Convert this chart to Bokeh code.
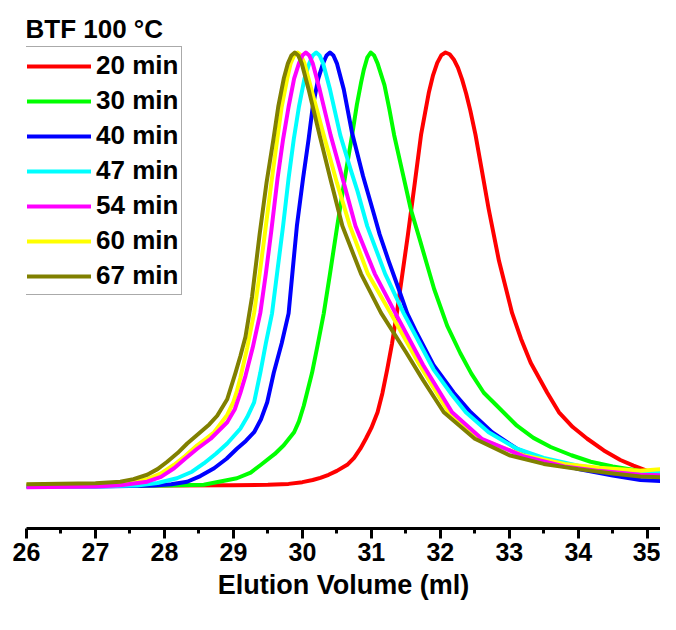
from bokeh.plotting import figure
from bokeh.models import Legend, LegendItem, Label, FixedTicker, Range1d
from bokeh.embed import file_html
from bokeh.resources import INLINE

# ---------------- data ----------------
series_labels = ["20 min", "30 min", "40 min", "47 min", "54 min", "60 min", "67 min"]
series_colors = ["#FF0000", "#00FF00", "#0000FF", "#00FFFF", "#FF00FF", "#FFFF00", "#808000"]

red_x = [26.0, 27.0, 28.0, 29.0, 29.5, 29.8, 30.0, 30.15, 30.26, 30.38, 30.5, 30.65, 30.75, 30.84,
         30.92, 31.0, 31.09, 31.16, 31.23, 31.3, 31.37, 31.45, 31.53, 31.63, 31.72, 31.78, 31.835,
         31.895, 31.955, 32.015, 32.075, 32.135, 32.195, 32.255, 32.315, 32.375, 32.435, 32.51,
         32.6, 32.7, 32.85, 33.04, 33.17, 33.31, 33.55, 33.72, 33.92, 34.13, 34.37, 34.61, 34.8,
         35.0, 35.2, 35.42]
red_y = [0.002, 0.002, 0.002, 0.003, 0.004, 0.006, 0.010, 0.015, 0.020, 0.027, 0.036, 0.050, 0.066, 0.087,
         0.11, 0.135, 0.171, 0.215, 0.27, 0.33, 0.40, 0.49, 0.58, 0.70, 0.81, 0.862, 0.909,
         0.948, 0.976, 0.994, 1.0, 0.996, 0.984, 0.965, 0.938, 0.905, 0.866, 0.81,
         0.73, 0.64, 0.52, 0.40, 0.34, 0.285, 0.216, 0.171, 0.137, 0.110, 0.083, 0.061, 0.048,
         0.036, 0.031, 0.028]

green_x = [26.0, 27.0, 28.0, 28.57, 29.05, 29.25, 29.39, 29.6, 29.73, 29.88, 29.95, 30.02, 30.14,
           30.22, 30.31, 30.4, 30.505, 30.62, 30.72, 30.79, 30.85, 30.89, 30.94, 30.99, 31.04, 31.09,
           31.19, 31.26, 31.33, 31.45, 31.57, 31.7, 31.8, 31.91, 32.1, 32.29, 32.45, 32.63, 32.82,
           33.11, 33.35, 33.6, 33.9, 34.18, 34.5, 34.9, 35.42]
green_y = [0.001, 0.001, 0.002, 0.004, 0.019, 0.032, 0.049, 0.075, 0.095, 0.125, 0.15, 0.186, 0.262,
           0.325, 0.399, 0.49, 0.60, 0.715, 0.809, 0.88, 0.93, 0.96, 0.988, 1.0, 0.993, 0.975,
           0.925, 0.87, 0.81, 0.725, 0.64, 0.57, 0.515, 0.455, 0.37, 0.307, 0.26, 0.216, 0.186,
           0.140, 0.112, 0.091, 0.072, 0.057, 0.046, 0.036, 0.030]

blue_x = [26.0, 27.0, 27.5, 27.85, 28.1, 28.33, 28.52, 28.72, 28.9, 29.05, 29.18, 29.3, 29.4, 29.49,
          29.585, 29.7, 29.8, 29.86, 29.92, 30.01, 30.09, 30.15, 30.23, 30.3, 30.35, 30.4, 30.45,
          30.5, 30.6, 30.72, 30.88, 31.04, 31.12, 31.25, 31.39, 31.52, 31.66, 31.9, 32.195, 32.44,
          32.75, 33.11, 33.5, 34.0, 34.5, 34.9, 35.42]
blue_y = [0.0, 0.0, 0.001, 0.002, 0.005, 0.011, 0.024, 0.042, 0.064, 0.087, 0.105, 0.125, 0.155, 0.194,
          0.262, 0.33, 0.399, 0.50, 0.60, 0.71, 0.80, 0.875, 0.94, 0.975, 0.993, 1.0, 0.993,
          0.975, 0.915, 0.815, 0.715, 0.626, 0.581, 0.52, 0.458, 0.399, 0.353, 0.28, 0.216, 0.171,
          0.125, 0.087, 0.062, 0.040, 0.025, 0.015, 0.011]

cyan_x = [26.0, 27.0, 27.6, 27.9, 28.18, 28.4, 28.57, 28.75, 28.91, 29.1, 29.2, 29.3, 29.39, 29.47,
          29.56, 29.64, 29.72, 29.8, 29.875, 29.95, 30.03, 30.1, 30.15, 30.2, 30.25, 30.3, 30.4,
          30.55, 30.7, 30.8, 30.94, 31.2, 31.47, 31.7, 31.9, 32.15, 32.37, 32.7, 33.11, 33.5,
          34.0, 34.5, 34.9, 35.42]
cyan_y = [0.0, 0.0, 0.002, 0.008, 0.019, 0.034, 0.053, 0.076, 0.099, 0.133, 0.16, 0.194, 0.262, 0.33,
          0.399, 0.50, 0.60, 0.71, 0.80, 0.875, 0.94, 0.975, 0.993, 1.0, 0.993, 0.975, 0.915,
          0.809, 0.73, 0.68, 0.60, 0.49, 0.399, 0.33, 0.27, 0.215, 0.171, 0.125, 0.087, 0.066,
          0.048, 0.037, 0.030, 0.034]

magenta_x = [26.0, 27.0, 27.36, 27.75, 27.95, 28.14, 28.3, 28.475, 28.67, 28.91, 29.02, 29.1, 29.175,
             29.28, 29.39, 29.47, 29.55, 29.64, 29.72, 29.8, 29.88, 29.95, 30.0, 30.05, 30.1, 30.15,
             30.25, 30.41, 30.6, 30.77, 31.05, 31.35, 31.75, 32.17, 32.6, 33.2, 33.8, 34.3, 34.9, 35.42]
magenta_y = [-0.002, 0.0, 0.003, 0.011, 0.022, 0.042, 0.064, 0.087, 0.110, 0.148, 0.178, 0.215, 0.255,
             0.32, 0.40, 0.49, 0.59, 0.71, 0.80, 0.875, 0.94, 0.975, 0.993, 1.0, 0.993, 0.975,
             0.915, 0.809, 0.70, 0.60, 0.49, 0.399, 0.28, 0.171, 0.11, 0.07, 0.046, 0.036, 0.027, 0.025]

yellow_x = [26.0, 27.0, 27.36, 27.55, 27.75, 27.95, 28.14, 28.3, 28.475, 28.6, 28.72, 28.91, 29.0,
            29.05, 29.1, 29.2, 29.3, 29.38, 29.455, 29.55, 29.635, 29.7, 29.78, 29.83, 29.88, 29.93,
            29.98, 30.03, 30.13, 30.31, 30.5, 30.69, 30.95, 31.28, 31.7, 32.12, 32.6, 33.2, 33.8,
            34.3, 34.9, 35.42]
yellow_y = [0.004, 0.005, 0.007, 0.011, 0.017, 0.03, 0.050, 0.07, 0.095, 0.11, 0.125, 0.165, 0.195,
            0.22, 0.25, 0.32, 0.40, 0.49, 0.581, 0.70, 0.80, 0.875, 0.94, 0.975, 0.993, 1.0,
            0.993, 0.975, 0.915, 0.809, 0.70, 0.60, 0.49, 0.399, 0.28, 0.171, 0.108, 0.072, 0.052,
            0.043, 0.036, 0.043]

olive_x = [26.0, 27.0, 27.36, 27.55, 27.75, 27.9, 28.04, 28.19, 28.33, 28.52, 28.65, 28.765, 28.91,
           29.03, 29.1, 29.175, 29.27, 29.38, 29.48, 29.58, 29.65, 29.73, 29.79, 29.84, 29.89, 29.94,
           29.99, 30.09, 30.25, 30.42, 30.58, 30.85, 31.14, 31.5, 31.75, 32.05, 32.5, 33.0, 33.5,
           34.0, 34.5, 34.9, 35.42]
olive_y = [0.005, 0.0075, 0.011, 0.017, 0.027, 0.04, 0.057, 0.077, 0.099, 0.125, 0.143, 0.163, 0.201,
           0.262, 0.30, 0.345, 0.437, 0.581, 0.70, 0.80, 0.875, 0.94, 0.975, 0.993, 1.0, 0.993,
           0.975, 0.915, 0.809, 0.70, 0.60, 0.49, 0.40, 0.31, 0.245, 0.171, 0.11, 0.072, 0.052,
           0.040, 0.030, 0.023, 0.020]

x_ticks = [26, 27, 28, 29, 30, 31, 32, 33, 34, 35]
x_minor_ticks = [26.5, 27.5, 28.5, 29.5, 30.5, 31.5, 32.5, 33.5, 34.5, 35.5]
x_title = "Elution Volume (ml)"
legend_title = "BTF 100 °C"

# ---------------- figure ----------------
FONT = "Liberation Sans"
p = figure(width=660, height=614, output_backend="svg", toolbar_location=None, title=None,
           x_range=Range1d(26, 35.192), y_range=Range1d(-0.0968, 1.1198),
           y_axis_location=None,
           min_border_left=26, min_border_right=0, min_border_top=0, min_border_bottom=86)
p.outline_line_color = None
p.grid.visible = False
p.background_fill_color = "white"
p.border_fill_color = "white"

xs = [red_x, green_x, blue_x, cyan_x, magenta_x, yellow_x, olive_x]
ys = [red_y, green_y, blue_y, cyan_y, magenta_y, yellow_y, olive_y]
draw_order = [0, 1, 2, 3, 5, 4, 6]
renderers = [None] * 7
for i in draw_order:
    renderers[i] = p.line(xs[i], ys[i], line_color=series_colors[i], line_width=4,
                          line_join="round", line_cap="round")

ax = p.xaxis[0]
ax.ticker = FixedTicker(ticks=x_ticks, minor_ticks=x_minor_ticks)
ax.axis_label = x_title
ax.axis_label_text_font = FONT
ax.axis_label_text_font_style = "bold"
ax.axis_label_text_font_size = "27px"
ax.axis_label_text_color = "black"
ax.axis_label_standoff = 6
ax.major_label_text_font = FONT
ax.major_label_text_font_style = "bold"
ax.major_label_text_font_size = "25px"
ax.major_label_text_color = "black"
ax.major_label_standoff = 4
ax.axis_line_width = 3
ax.axis_line_color = "black"
ax.major_tick_line_width = 3
ax.major_tick_line_color = "black"
ax.minor_tick_line_width = 3
ax.minor_tick_line_color = "black"
ax.major_tick_out = 10
ax.major_tick_in = 0
ax.minor_tick_out = 5
ax.minor_tick_in = 0

legend = Legend(items=[LegendItem(label=series_labels[i], renderers=[renderers[i]]) for i in range(7)],
                location=(-3, 233), margin=0, padding=3, spacing=4,
                glyph_width=64, glyph_height=30, label_height=30, label_standoff=5,
                label_text_font=FONT, label_text_font_style="bold", label_text_font_size="26px",
                label_text_color="black",
                border_line_color="#555555", border_line_width=1,
                background_fill_color="white", background_fill_alpha=1.0)
p.add_layout(legend)

p.add_layout(Label(x=25.9855, y=1.0546, text=legend_title, text_font=FONT, text_font_style="bold",
                   text_font_size="26px", text_color="black", text_baseline="alphabetic",
                   text_align="left"))

open("out.html", "w").write(file_html(p, INLINE))
